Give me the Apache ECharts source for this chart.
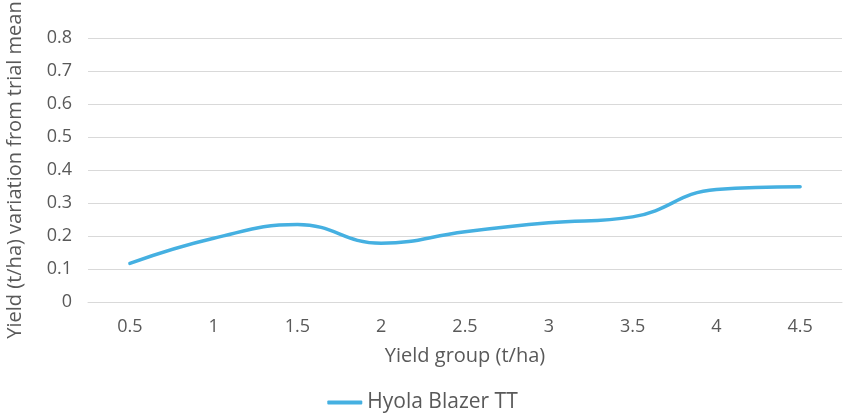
<!DOCTYPE html>
<html><head><meta charset="utf-8">
<script src="https://cdn.jsdelivr.net/npm/echarts@6/dist/echarts.min.js"></script>
<style>html,body{margin:0;padding:0;background:#fff}#c{width:845px;height:418px}</style>
</head><body><div id="c"></div>
<script>
const categories = ['0.5','1','1.5','2','2.5','3','3.5','4','4.5'];
const blazerValues = [0.117, 0.193, 0.235, 0.178, 0.213, 0.240, 0.258, 0.341, 0.349];
const seriesName = 'Hyola Blazer TT';
const xTitle = 'Yield group (t/ha)';
const yTitle = 'Yield (t/ha) variation from trial mean';

const chart = echarts.init(document.getElementById('c'));
const font = 'Open Sans';
chart.setOption({
  animation: false,
  textStyle: { fontFamily: font },
  grid: { left: 88, right: 3, top: 38, bottom: 116, containLabel: false, outerBoundsMode: 'none' },
  xAxis: {
    type: 'category', data: categories, boundaryGap: true,
    name: xTitle, nameLocation: 'middle', nameGap: 54,
    nameTextStyle: { color: '#595959', fontSize: 20, fontFamily: font, verticalAlign: 'middle', lineHeight: 20 },
    axisLine: { show: true, lineStyle: { color: '#d9d9d9', width: 1 } },
    axisTick: { show: false },
    axisLabel: { color: '#595959', fontSize: 18, margin: 16, fontFamily: font }
  },
  yAxis: {
    type: 'value', min: 0, max: 0.8, interval: 0.1,
    name: yTitle, nameLocation: 'middle', nameGap: 63,
    nameTextStyle: { color: '#595959', fontSize: 20, fontFamily: font },
    axisLine: { show: false }, axisTick: { show: false },
    axisLabel: { color: '#595959', fontSize: 18, margin: 16, fontFamily: font,
      formatter: v => (Math.round(v*10)/10).toString() },
    splitLine: { lineStyle: { color: '#d9d9d9', width: 1 } }
  },
  legend: {
    bottom: 0, left: 'center', itemWidth: 35, itemHeight: 4, itemGap: 10,
    icon: 'roundRect',
    textStyle: { color: '#595959', fontSize: 21, fontFamily: font },
    data: [seriesName]
  },
  series: [{
    name: seriesName, type: 'line', data: blazerValues, smooth: 0.45,
    showSymbol: false, symbol: 'none',
    lineStyle: { color: '#45b0e1', width: 3.5, cap: 'round' },
    itemStyle: { color: '#45b0e1' }
  }]
});
</script></body></html>
